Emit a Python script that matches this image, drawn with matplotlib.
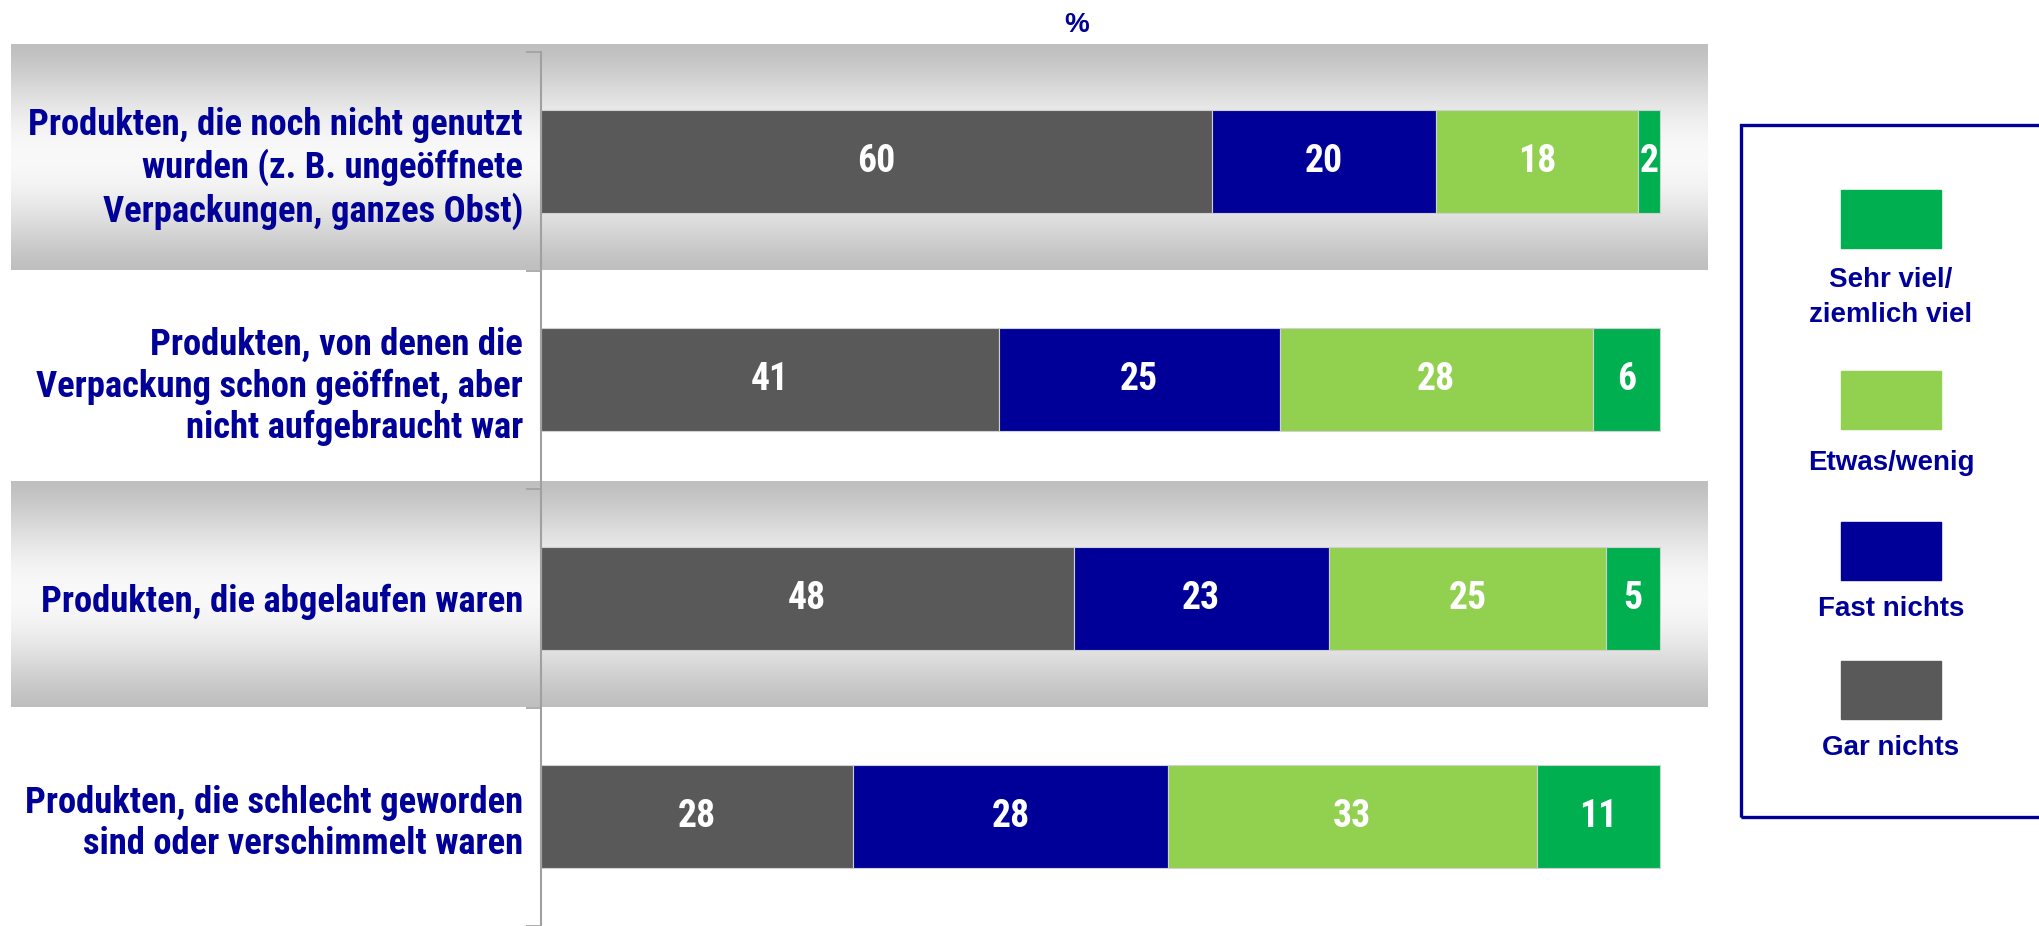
import matplotlib.pyplot as plt
from matplotlib import font_manager
from matplotlib.patches import Rectangle
import numpy as np

# data
categories = [
    "Produkten, die noch nicht genutzt\nwurden (z. B. ungeöffnete\nVerpackungen, ganzes Obst)",
    "Produkten, von denen die\nVerpackung schon geöffnet, aber\nnicht aufgebraucht war",
    "Produkten, die abgelaufen waren",
    "Produkten, die schlecht geworden\nsind oder verschimmelt waren",
]
gar_nichts = [60.0, 40.9, 47.6, 27.9]
fast_nichts = [20.0, 25.1, 22.8, 28.1]
etwas_wenig = [18.0, 28.0, 24.8, 33.0]
sehr_viel = [2.0, 6.0, 4.8, 11.0]
series_names = ["Gar nichts", "Fast nichts", "Etwas/wenig", "Sehr viel/\nziemlich viel"]

colors = ["#595959", "#000099", "#92D050", "#00B050"]
navy = "#000099"
W, H = 2040, 926

# pick a narrow bold font if there is one
installed = {f.name for f in font_manager.fontManager.ttflist}
narrow_name = "Liberation Sans"
for cand in ["Liberation Sans Narrow", "Arial Narrow", "Roboto Condensed",
             "Open Sans Condensed", "Noto Sans Condensed"]:
    if cand in installed:
        narrow_name = cand
        break
narrow = [narrow_name, "DejaVu Sans"]
wide = ["Liberation Sans", "DejaVu Sans"]

fig = plt.figure(figsize=(W / 100, H / 100), dpi=100)

# size the label font so the longest line is about 497 px wide
probe = fig.text(0, 0, "Produkten, die schlecht geworden", fontsize=20,
                 fontweight="bold", family=narrow)
pw = probe.get_window_extent(renderer=fig.canvas.get_renderer()).width
probe.remove()
lab_size = 20 * 497 / pw
val_size = lab_size * (1.03 if narrow_name != "Liberation Sans" else 1.15)

ax = fig.add_axes([541 / W, 0, (1707 - 541) / W, 874 / H])

y = np.arange(len(categories))

# grey gradient bands behind rows 1 and 3
t = np.linspace(0, 1, 256)
prof = np.sin(np.pi * t) ** 1.4
grey, light = 0.75, 0.975
g = grey + (light - grey) * prof
img = np.dstack([g, g, g]).reshape(256, 1, 3)
for k in [0, 2]:
    ax.imshow(img, extent=(-47.4, 104.2, k + 0.5, k - 0.53), aspect="auto",
              clip_on=False, zorder=0, interpolation="bilinear")

left = np.zeros(len(categories))
for vals, c in zip([gar_nichts, fast_nichts, etwas_wenig, sehr_viel], colors):
    bars = ax.barh(y, vals, left=left, height=0.47, color=c,
                   edgecolor="#d0d0d0", linewidth=0.8, zorder=2)
    for b, v in zip(bars, vals):
        ax.text(b.get_x() + b.get_width() / 2, b.get_y() + b.get_height() / 2,
                f"{v:.0f}", ha="center", va="center", color="white",
                fontsize=val_size, fontweight="bold", family=narrow, zorder=3)
    left += np.array(vals)

ax.set_xlim(0, 104.2)
ax.set_ylim(3.5, -0.5)
ax.set_xticks([])
ax.set_yticks(y)
ax.set_yticklabels(categories, fontsize=lab_size, fontweight="bold", color=navy,
                   family=narrow, linespacing=1.2)
ax.set_yticks(np.arange(-0.5, 4.0, 1.0), minor=True)
ax.tick_params(axis="y", which="major", length=0, pad=13)
ax.tick_params(axis="y", which="minor", length=11, color="#a0a0a0", width=1.2)
for s in ["top", "right", "bottom"]:
    ax.spines[s].set_visible(False)
ax.spines["left"].set_color("#a0a0a0")
ax.spines["left"].set_linewidth(1.5)
ax.patch.set_visible(False)

fig.text(1077 / W, 1 - 25 / H, "%", ha="center", va="center", color=navy,
         fontsize=20, fontweight="bold", family=wide)

# legend box
fig.patches.append(Rectangle((1741 / W, 1 - 817 / H), 400 / W, (817 - 125) / H,
                             transform=fig.transFigure, fill=False,
                             edgecolor=navy, linewidth=2.4))
leg_patch_y = [190, 371, 522, 661]
leg_text_y = [298, 463, 609, 748]
leg_order = [3, 2, 1, 0]
for py, ty, i in zip(leg_patch_y, leg_text_y, leg_order):
    fig.patches.append(Rectangle((1841 / W, 1 - (py + 58) / H), 100 / W, 58 / H,
                                 transform=fig.transFigure, color=colors[i]))
    fig.text(1891 / W, 1 - ty / H, series_names[i], ha="center", va="center",
             color=navy, fontsize=20, fontweight="bold", linespacing=1.45,
             family=wide)

fig.savefig("out.png", dpi=100)
